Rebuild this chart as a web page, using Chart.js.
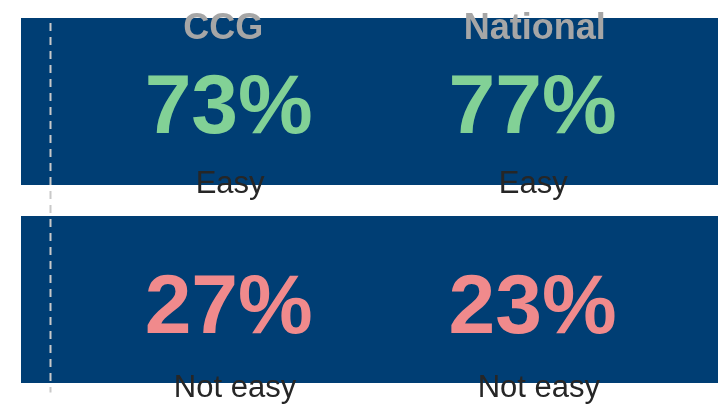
<!DOCTYPE html>
<html>
<head>
<meta charset="utf-8">
<script src="https://cdn.jsdelivr.net/npm/chart.js@4"></script>
<style>
    html, body { margin: 0; padding: 0; background: #ffffff; }
    #wrap { width: 718px; height: 405px; position: relative; }
</style>
</head>
<body>
<div id="wrap"><canvas id="chart"></canvas></div>
<script>

// DATA

const categories = ['Easy', 'Not easy'];
const groups = ['CCG', 'National'];
const ccgValues = [73, 27];
const nationalValues = [77, 23];
const barValues = [100, 100];

// LAYOUT (x-scale values)

const headerCenters = [29.0, 73.7];
const valueCenters = [29.8, 73.4];
const labelCenters = [[30.0, 73.5], [30.7, 74.3]];
const refLineValue = 4.16;            // dashed reference line
const valueColors = ['#82d196', '#f08a8c'];

const FONT = '"Liberation Sans", Arial, Helvetica, sans-serif';

const overlayPlugin = {
    id: 'overlay',
    afterDatasetsDraw(chart) {
        const ctx = chart.ctx;
        const x = chart.scales.x;
        const y = chart.scales.y;
        const area = chart.chartArea;
        const bars = chart.getDatasetMeta(0).data;

        // dashed line

        ctx.save();
        const lx = Math.round(x.getPixelForValue(refLineValue)) + 0.5;
        ctx.strokeStyle = '#c9c9c9';
        ctx.lineWidth = 2;
        ctx.setLineDash([8, 6]);
        ctx.beginPath();
        ctx.moveTo(lx, area.top + 20.5);
        ctx.lineTo(lx, area.bottom - 6);
        ctx.stroke();
        ctx.restore();

        ctx.save();
        ctx.textAlign = 'center';
        ctx.textBaseline = 'alphabetic';

        // group headers

        ctx.fillStyle = '#a6a6a6';
        ctx.font = 'bold 36px ' + FONT;
        groups.forEach((g, i) => {
            ctx.fillText(g, x.getPixelForValue(headerCenters[i]), bars[0].y - bars[0].height / 2 + 21);
        });

        // values and category labels

        const series = [ccgValues, nationalValues];
        categories.forEach((cat, ci) => {
            const bar = bars[ci];
            const cy = y.getPixelForValue(ci);
            const bottom = bar.y + bar.height / 2;
            series.forEach((vals, si) => {
                ctx.fillStyle = valueColors[ci];
                ctx.font = 'bold 84px ' + FONT;
                ctx.fillText(vals[ci] + '%', x.getPixelForValue(valueCenters[si]), cy + 31.5 + ci * 2);
                ctx.fillStyle = '#262626';
                ctx.font = '31px ' + FONT;
                ctx.fillText(cat, x.getPixelForValue(labelCenters[ci][si]), bottom + 8 + ci * 6);
            });
        });
        ctx.restore();
    }
};

new Chart(document.getElementById('chart'), {

    type: 'bar',

    data: {
        labels: categories,
        datasets: [{
            data: barValues,
            backgroundColor: '#003e74',
            borderWidth: 0,
            barPercentage: 1,
            categoryPercentage: 0.843,
        }]
    },

    options: {
        indexAxis: 'y',
        responsive: true,
        maintainAspectRatio: false,
        animation: false,
        layout: {
            padding: { left: 21, right: 0, top: 2.5, bottom: 6.5 }
        },
        plugins: {
            legend: { display: false },
            tooltip: { enabled: false }
        },
        scales: {
            x: {
                min: 0,
                max: 100,
                display: false
            },
            y: {
                display: false
            }
        }
    },

    plugins: [overlayPlugin]
});
</script>
</body>
</html>
